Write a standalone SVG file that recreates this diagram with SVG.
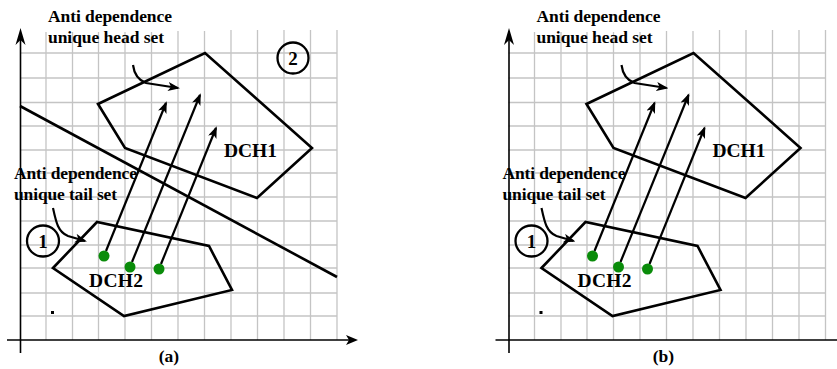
<svg xmlns="http://www.w3.org/2000/svg" width="837" height="369" viewBox="0 0 837 369">
<defs>
<style>
.grid line{stroke:#c4c4c4;stroke-width:1.3}
.axis{stroke:#000;stroke-width:1.6;fill:none}
.poly{stroke:#000;stroke-width:2.6;fill:none;stroke-linejoin:miter}
.arr{stroke:#000;stroke-width:2.2;fill:none;marker-end:url(#ah)}
.dot{fill:#0a8c0a}
.circ{stroke:#000;stroke-width:2.3;fill:none}
text{font-family:"Liberation Serif","Times New Roman",serif;font-weight:700;fill:#000}
.lbl{font-size:17.5px}
.dch{font-size:19.5px}
.num{font-size:19px;text-anchor:middle}
.cap{font-size:17.5px;text-anchor:middle}
</style>
<marker id="ah" markerWidth="12" markerHeight="10" refX="10" refY="4.5" orient="auto" markerUnits="userSpaceOnUse">
<path d="M0,0 L12,4.5 L0,9 L3,4.5 z" fill="#000"/>
</marker>
<g id="gridA" class="grid">
<line x1="20" y1="53" x2="337" y2="53"/>
<line x1="20" y1="78" x2="337" y2="78"/>
<line x1="20" y1="102.5" x2="337" y2="102.5"/>
<line x1="20" y1="126" x2="337" y2="126"/>
<line x1="20" y1="150" x2="337" y2="150"/>
<line x1="20" y1="173" x2="337" y2="173"/>
<line x1="20" y1="197" x2="337" y2="197"/>
<line x1="20" y1="221" x2="337" y2="221"/>
<line x1="20" y1="245" x2="337" y2="245"/>
<line x1="20" y1="268" x2="337" y2="268"/>
<line x1="20" y1="293" x2="337" y2="293"/>
<line x1="20" y1="316" x2="337" y2="316"/>
<line x1="46" y1="32" x2="46" y2="340"/>
<line x1="72.5" y1="32" x2="72.5" y2="340"/>
<line x1="98.5" y1="32" x2="98.5" y2="340"/>
<line x1="125" y1="32" x2="125" y2="340"/>
<line x1="151.5" y1="32" x2="151.5" y2="340"/>
<line x1="178" y1="31" x2="178" y2="340"/>
<line x1="204.5" y1="31" x2="204.5" y2="340"/>
<line x1="231" y1="30" x2="231" y2="340"/>
<line x1="257.5" y1="30" x2="257.5" y2="340"/>
<line x1="284" y1="30" x2="284" y2="340"/>
<line x1="310.5" y1="30" x2="310.5" y2="340"/>
<line x1="337" y1="30" x2="337" y2="340"/>
</g>
</defs>

<!-- Panel (a) -->
<g id="panel-a">
<use href="#gridA"/>
<g id="axes-a">
<line class="axis" x1="7" y1="340" x2="350" y2="340"/>
<path d="M358,340 L346,335 L349,340 L346,345 z" fill="#000"/>
<line class="axis" x1="20.5" y1="353" x2="20.5" y2="40"/>
<path d="M20.5,28 L15.5,45 L20.5,40 L25.5,45 z" fill="#000"/>
</g>
<g id="a-DCH1"><polygon class="poly" points="98,104 205,53 312,148 257,198 125,148"/>
<text class="dch" x="224" y="157" textLength="53">DCH1</text></g>
<g id="a-DCH2"><polygon class="poly" points="53,268 97,222 209,246 232,290 124,316"/>
<text class="dch" x="89" y="287" textLength="54">DCH2</text></g>
<g id="a-split"><line class="poly" x1="20" y1="106" x2="337" y2="277"/></g>
<g id="a-connectors">
<path class="arr" d="M106,251 L166,103"/>
<path class="arr" d="M132,262 L200,95"/>
<path class="arr" d="M161,264 L216,128"/>
<path class="arr" d="M133,65 C134,73 138,80 146,83 L178,88"/>
<path class="arr" d="M53,208 C56,222 58,232 68,236 L85,241"/>
</g>
<g id="a-dots">
<circle class="dot" cx="104" cy="256" r="5.5"/>
<circle class="dot" cx="130" cy="267" r="5.5"/>
<circle class="dot" cx="159" cy="269" r="5.5"/>
</g>
<g id="a-head-label"><text class="lbl" x="48" y="22" textLength="124">Anti dependence</text>
<text class="lbl" x="48" y="43" textLength="116">unique head set</text></g>
<g id="a-tail-label"><text class="lbl" x="14" y="179" textLength="123">Anti dependence</text>
<text class="lbl" x="14" y="200" textLength="103">unique tail set</text></g>
<g id="a-c1"><ellipse class="circ" cx="43" cy="241" rx="16" ry="15.5"/><text class="num" x="43" y="247.5">1</text></g>
<g id="a-c2"><circle class="circ" cx="293" cy="58" r="15.5"/><text class="num" x="293" y="64.5">2</text></g>
<rect x="51" y="311" width="3" height="3" fill="#000"/>
<text class="cap" x="169" y="362">(a)</text>
</g>

<!-- Panel (b) -->
<g id="panel-b" transform="translate(488.5,0)">
<use href="#gridA"/>
<g id="axes-b">
<line class="axis" x1="7" y1="340" x2="360" y2="340"/>
<line class="axis" x1="20.5" y1="353" x2="20.5" y2="40"/>
<path d="M20.5,28 L15.5,45 L20.5,40 L25.5,45 z" fill="#000"/>
</g>
<g id="b-DCH1"><polygon class="poly" points="98,104 205,53 312,148 257,198 125,148"/>
<text class="dch" x="224" y="157" textLength="53">DCH1</text></g>
<g id="b-DCH2"><polygon class="poly" points="53,268 97,222 209,246 232,290 124,316"/>
<text class="dch" x="89" y="287" textLength="54">DCH2</text></g>
<g id="b-connectors">
<path class="arr" d="M106,251 L166,103"/>
<path class="arr" d="M132,262 L200,95"/>
<path class="arr" d="M161,264 L216,128"/>
<path class="arr" d="M133,65 C134,73 138,80 146,83 L178,88"/>
<path class="arr" d="M53,208 C56,222 58,232 68,236 L85,241"/>
</g>
<g id="b-dots">
<circle class="dot" cx="104" cy="256" r="5.5"/>
<circle class="dot" cx="130" cy="267" r="5.5"/>
<circle class="dot" cx="159" cy="269" r="5.5"/>
</g>
<g id="b-head-label"><text class="lbl" x="48" y="22" textLength="124">Anti dependence</text>
<text class="lbl" x="48" y="43" textLength="116">unique head set</text></g>
<g id="b-tail-label"><text class="lbl" x="14" y="179" textLength="123">Anti dependence</text>
<text class="lbl" x="14" y="200" textLength="103">unique tail set</text></g>
<g id="b-c1"><ellipse class="circ" cx="43" cy="241" rx="16" ry="15.5"/><text class="num" x="43" y="247.5">1</text></g>
<rect x="51" y="311" width="3" height="3" fill="#000"/>
<text class="cap" x="175" y="362">(b)</text>
</g>
</svg>
